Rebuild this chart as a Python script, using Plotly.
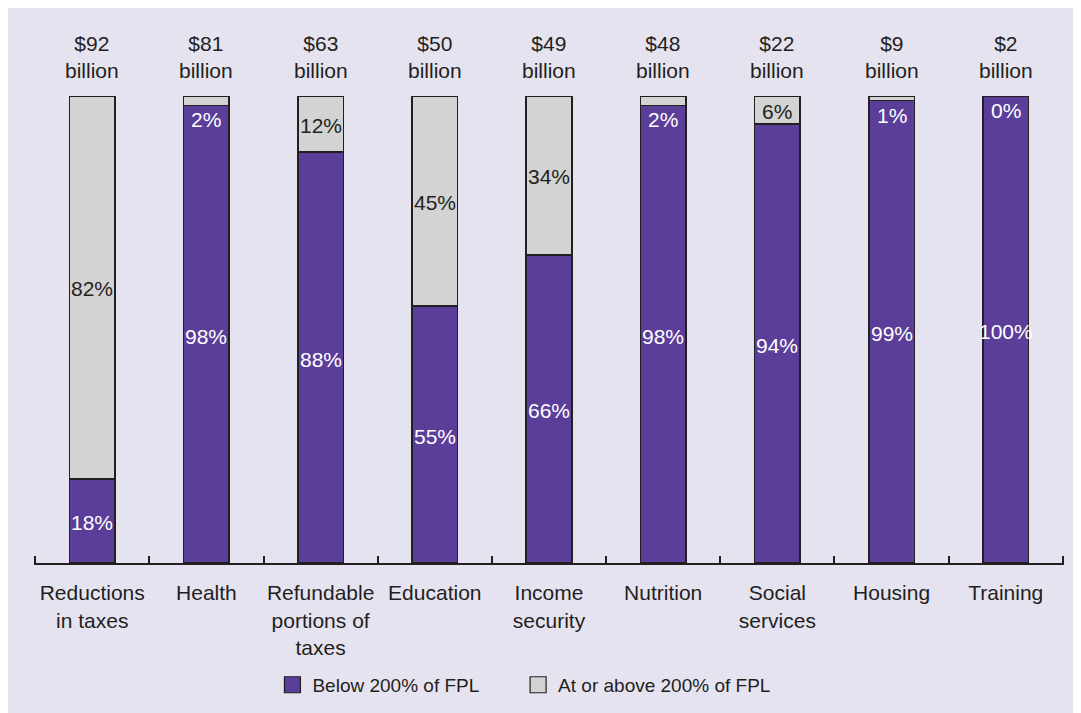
import plotly.graph_objects as go

categories = ["Reductions<br>in taxes", "Health", "Refundable<br>portions of<br>taxes", "Education",
              "Income<br>security", "Nutrition", "Social<br>services", "Housing", "Training"]
totals = ["$92", "$81", "$63", "$50", "$49", "$48", "$22", "$9", "$2"]
below = [18, 98, 88, 55, 66, 98, 94, 99, 100]
above = [82, 2, 12, 45, 34, 2, 6, 1, 0]
series_names = ["Below 200% of FPL", "At or above 200% of FPL"]

PURPLE = "#5A3E99"
GRAY = "#D3D3D4"
DARK = "#231F20"
BG = "#E6E3F1"
FONT = "Liberation Sans, Arial, sans-serif"
FS = 21

fig = go.Figure()
for vals, col, name in [(below, PURPLE, series_names[0]), (above, GRAY, series_names[1])]:
    fig.add_trace(go.Bar(x=categories, y=vals, name=name, marker=dict(color=col, line=dict(color=DARK, width=1.6)),
                         width=0.4, hoverinfo="skip", showlegend=False))
for col, name, lg in [(PURPLE, series_names[0], "legend"), (GRAY, series_names[1], "legend2")]:
    fig.add_trace(go.Scatter(x=[None], y=[None], mode="markers", name=name, legend=lg,
                             marker=dict(symbol="square", size=16, color=col, line=dict(color=DARK, width=1.2))))

ann = []
for i, cat in enumerate(categories):
    b, a = below[i], above[i]
    ann.append(dict(x=cat, y=b / 2, text=f"{b}%", showarrow=False, yshift=-2,
                    font=dict(color="white", size=FS, family=FONT)))
    if a >= 5:
        ann.append(dict(x=cat, y=b + a / 2, text=f"{a}%", showarrow=False, yshift=-1,
                        font=dict(color=DARK, size=FS, family=FONT)))
    else:
        ann.append(dict(x=cat, y=b, text=f"{a}%", showarrow=False, yanchor="top", yshift=-1,
                        font=dict(color="white", size=FS, family=FONT)))
    ann.append(dict(x=cat, y=100, text=f"{totals[i]}<br>billion", showarrow=False, yanchor="bottom", yshift=12,
                    font=dict(color=DARK, size=FS, family=FONT)))

legend_common = dict(orientation="h", y=-0.261, yanchor="middle", xanchor="left",
                     font=dict(size=19, color=DARK, family=FONT), bgcolor="rgba(0,0,0,0)", itemwidth=30)

fig.update_layout(
    width=1081, height=713,
    margin=dict(l=26, r=25, t=88, b=158),
    paper_bgcolor=BG, plot_bgcolor="rgba(0,0,0,0)",
    barmode="stack",
    font=dict(family=FONT, size=FS, color=DARK),
    annotations=ann,
    xaxis=dict(type="category", range=[-0.51, 8.51], tickangle=0,
               showline=True, linecolor=DARK, linewidth=2, ticks="inside", tickson="boundaries",
               ticklen=7, tickwidth=2, tickcolor=DARK, showgrid=False, zeroline=False,
               ticklabelstandoff=10,
               tickfont=dict(size=FS, color=DARK, family=FONT)),
    yaxis=dict(range=[0, 100], visible=False, showgrid=False, zeroline=False),
    legend=dict(x=0.2315, **legend_common),
    legend2=dict(x=0.470, **legend_common),
    showlegend=True,
)

fig.write_html("out.html")
